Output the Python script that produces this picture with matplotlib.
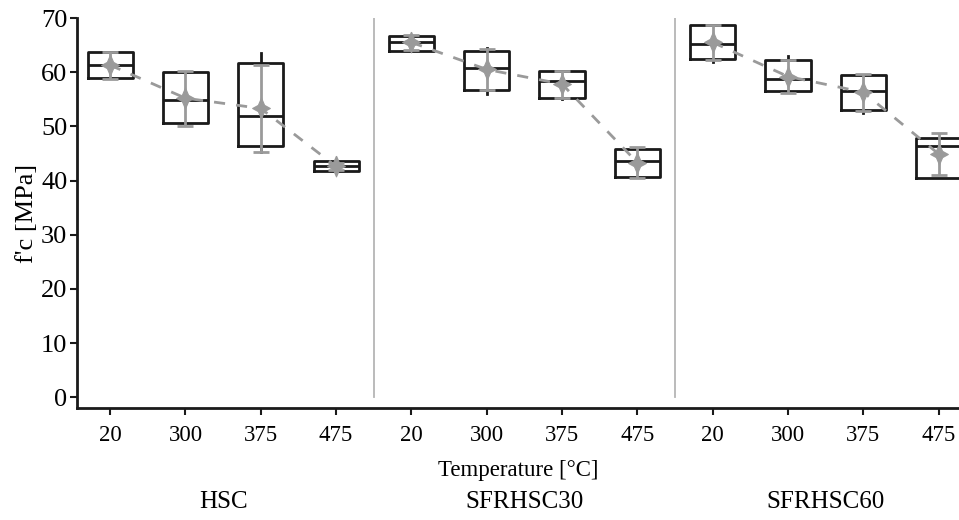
import numpy as np
import matplotlib.pyplot as plt
from matplotlib import transforms

plt.rcParams['font.family'] = ['Liberation Serif', 'DejaVu Serif']

temps = ['20', '300', '375', '475']
groups = ['HSC', 'SFRHSC30', 'SFRHSC60']

# box statistics per group (20, 300, 375, 475 °C)
q1 = {'HSC': [58.9, 50.6, 46.4, 41.7],
      'SFRHSC30': [63.9, 56.8, 55.3, 40.6],
      'SFRHSC60': [62.4, 56.6, 53.0, 40.4]}
med = {'HSC': [61.3, 54.8, 51.9, 42.7],
       'SFRHSC30': [65.6, 60.7, 58.4, 43.6],
       'SFRHSC60': [65.2, 58.7, 56.6, 46.4]}
q3 = {'HSC': [63.7, 60.1, 61.7, 43.6],
      'SFRHSC30': [66.7, 63.9, 60.2, 45.8],
      'SFRHSC60': [68.7, 62.2, 59.5, 47.8]}
wlo = {'HSC': [58.9, 50.6, 45.2, 41.7],
       'SFRHSC30': [63.9, 55.9, 55.0, 40.6],
       'SFRHSC60': [61.8, 56.6, 52.4, 40.4]}
whi = {'HSC': [63.7, 60.1, 63.6, 43.6],
       'SFRHSC30': [66.7, 64.5, 60.2, 45.8],
       'SFRHSC60': [68.7, 62.9, 59.5, 47.8]}
mean = {'HSC': [61.3, 55.2, 53.3, 42.6],
        'SFRHSC30': [65.5, 60.5, 57.8, 43.3],
        'SFRHSC60': [65.5, 59.2, 56.3, 44.9]}
sd = {'HSC': [2.5, 5.1, 8.1, 0.6],
      'SFRHSC30': [1.4, 3.8, 2.5, 2.9],
      'SFRHSC60': [3.2, 3.0, 3.4, 3.8]}

grey = '#9a9a9a'
# four-pointed concave diamond for the means
star4 = [(0, 1), (0.3, 0.3), (0.85, 0), (0.3, -0.3),
         (0, -1), (-0.3, -0.3), (-0.85, 0), (-0.3, 0.3), (0, 1)]

fig = plt.figure(figsize=(9.59, 5.2), dpi=100)
ax = fig.add_axes([77 / 959, 1 - 408 / 520, 1 - 77 / 959, 390 / 520])

n = len(temps)
for g, name in enumerate(groups):
    pos = np.arange(n) + g * n
    stats = []
    for i in range(n):
        stats.append(dict(q1=q1[name][i], med=med[name][i], q3=q3[name][i],
                          whislo=wlo[name][i], whishi=whi[name][i], fliers=[]))
    ax.bxp(stats, positions=pos, widths=0.6, showfliers=False, showcaps=False,
           boxprops=dict(color='#1a1a1a', lw=2),
           medianprops=dict(color='#1a1a1a', lw=2),
           whiskerprops=dict(color='#1a1a1a', lw=2))
    ax.plot(pos, mean[name], '--', color=grey, lw=2, dashes=(4, 4), zorder=4)
    ax.errorbar(pos, mean[name], yerr=sd[name], fmt='none', ecolor=grey,
                elinewidth=2, capsize=6, capthick=2, zorder=5)
    ax.plot(pos, mean[name], ls='none', marker=star4, color=grey, ms=15,
            mec=grey, mew=0.8, zorder=6)

# separators between groups
for g in range(1, len(groups)):
    ax.plot([g * n - 0.5, g * n - 0.5], [0, 70], color='#b5b5b5', lw=1.3)

ax.set_xlim(-0.44, 11.27)
ax.set_ylim(-2, 70)
ax.set_yticks(range(0, 71, 10))
ax.set_xticks(np.arange(n * len(groups)))
ax.set_xticklabels(temps * len(groups))
ax.tick_params(width=1.5, length=5, direction='out', color='#1a1a1a')
ax.tick_params(axis='x', labelsize=16.5, pad=7)
ax.tick_params(axis='y', labelsize=19, pad=2)
for s in ['top', 'right']:
    ax.spines[s].set_visible(False)
for s in ['left', 'bottom']:
    ax.spines[s].set_linewidth(2)
    ax.spines[s].set_color('#1a1a1a')

ax.set_ylabel("f'c [MPa]", fontsize=19, labelpad=2)
ax.set_xlabel('Temperature [°C]', fontsize=16.5, labelpad=10)

trans = transforms.blended_transform_factory(ax.transData, fig.transFigure)
for g, name in enumerate(groups):
    ax.text(g * n + 1.5, 1 - 502 / 520, name, transform=trans,
            ha='center', va='center', fontsize=18)

fig.savefig('out.png', dpi=100)
